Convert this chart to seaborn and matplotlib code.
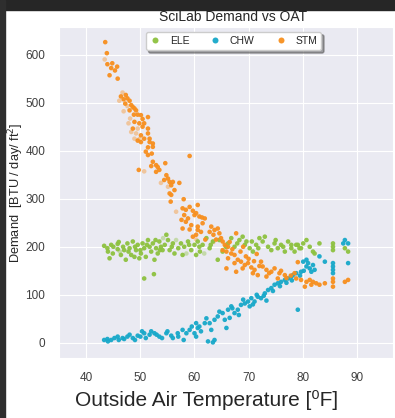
import pandas as pd
import numpy as np
import matplotlib
matplotlib.use('Agg')
import matplotlib.pyplot as plt
import seaborn as sns
from matplotlib.patches import Rectangle

# values (OAT in F, demand in BTU/day/ft2)
ele_oat = [43.3, 43.9, 44.6, 44.9, 44.3, 45.8, 45.8, 46.4, 47.0, 47.3, 47.6, 48.0, 48.3, 48.6, 48.9,
           49.2, 49.5, 49.8, 50.1, 50.4, 50.7, 51.0, 51.4, 51.7, 52.0, 52.3, 52.6, 52.9, 53.2, 53.5,
           53.8, 54.1, 54.8, 55.1, 55.4, 56.0, 56.3, 50.7, 52.5, 57.5, 57.8, 58.1, 58.8, 59.4, 60.0,
           60.3, 60.9, 60.6, 61.5, 62.2, 62.8, 63.4, 64.3, 64.6, 65.2, 66.2, 66.8, 67.4, 68.3, 68.9,
           69.3, 69.6, 70.2, 70.8, 71.4, 72.0, 72.6, 73.0, 73.6, 74.2, 74.8, 75.4, 76.0, 76.7, 77.3,
           77.9, 78.5, 79.1, 79.7, 77.9, 78.8, 79.4, 80.1, 80.7, 81.3, 81.9, 82.2, 83.1, 85.6, 85.6,
           85.6, 87.8, 88.4, 44.0, 45.0, 46.0, 46.8, 47.8, 49.0, 50.0, 51.2, 52.8, 53.6, 54.5, 55.8,
           57.0, 59.0, 61.0, 63.0, 65.8, 67.9, 70.6, 71.8, 75.0, 76.4]
ele_demand = [202, 197, 204, 186, 176, 206, 195, 183, 193, 173, 207, 197, 183, 211, 179,
              193, 204, 176, 186, 207, 197, 179, 214, 200, 190, 207, 173, 197, 186, 211,
              200, 193, 225, 214, 193, 207, 186, 134, 143, 207, 183, 200, 211, 193, 204,
              183, 200, 211, 204, 218, 197, 211, 173, 214, 190, 207, 218, 200, 214, 221,
              204, 211, 197, 190, 204, 218, 211, 221, 200, 193, 207, 197, 204, 190, 211,
              197, 190, 204, 197, 204, 204, 197, 207, 214, 200, 190, 186, 207, 207, 200,
              193, 197, 190, 190, 200, 210, 200, 190, 200, 193, 204, 214, 193, 204, 200,
              197, 204, 190, 204, 200, 207, 211, 197, 214, 200]

chw_oat = [43.3, 43.9, 44.6, 45.2, 45.8, 46.7, 47.6, 48.6, 49.5, 50.7, 51.7, 52.6, 53.5, 54.8, 55.7,
           56.9, 57.8, 59.1, 60.0, 60.9, 61.9, 44.0, 46.0, 47.0, 48.0, 49.0, 50.0, 50.3, 51.0, 52.0,
           53.0, 54.0, 55.0, 56.0, 57.0, 58.0, 58.5, 59.5, 60.3, 60.6, 61.2, 60.3, 62.5, 63.7, 63.4,
           62.2, 62.8, 63.1, 63.7, 64.3, 64.6, 65.2, 65.6, 65.9, 66.2, 66.8, 67.4, 68.0, 68.6, 69.3,
           69.9, 70.5, 70.2, 71.1, 71.7, 72.3, 73.0, 73.6, 74.2, 74.8, 75.4, 76.0, 76.7, 77.3, 77.9,
           78.8, 79.1, 87.8, 88.4, 87.5, 80.1, 80.7, 81.0, 80.7, 81.3, 81.9, 82.2, 81.6, 83.1, 84.1,
           85.6, 85.6, 85.6, 85.6, 88.4, 79.7, 78.2, 67.0, 69.0, 71.5, 72.8, 74.5, 75.8, 77.0, 78.0,
           79.5, 80.2, 73.3, 70.8, 68.2, 66.5]
chw_demand = [6, 8, 6, 10, 13, 10, 13, 10, 15, 20, 17, 20, 13, 20, 15,
              20, 27, 27, 20, 34, 41, 3, 6, 8, 17, 6, 13, 24, 10, 24,
              17, 10, 24, 10, 13, 6, 20, 34, 41, 31, 24, 13, 3, 6, 1,
              51, 41, 27, 48, 55, 65, 62, 48, 31, 69, 76, 62, 69, 79, 82,
              86, 93, 76, 86, 96, 93, 103, 110, 114, 121, 124, 127, 131, 134, 138,
              145, 69, 214, 207, 207, 169, 173, 166, 159, 155, 162, 152, 148, 180, 169,
              166, 159, 152, 145, 166, 148, 141, 72, 90, 100, 98, 108, 118, 125, 130,
              140, 150, 88, 80, 58, 52]

stm_oat = [43.5, 43.8, 43.9, 44.8, 44.6, 45.7, 45.3, 44.3, 45.8,
           46.4, 47.3, 47.6, 46.9, 48.0, 47.2, 48.3, 48.6, 48.9, 48.0, 49.2, 49.5, 48.8, 50.1, 50.4,
           51.4, 48.9, 49.8, 50.7, 48.6, 50.4, 51.4, 50.1, 51.4, 50.7, 51.7, 52.3,
           49.5, 50.1, 51.7, 52.3, 51.4, 51.0, 52.1, 51.4, 59.1,
           52.3, 52.9, 52.0, 53.2, 52.9, 53.5, 54.6, 49.7,
           54.8, 55.1, 54.4, 55.4, 56.0, 55.7, 56.3, 55.4, 55.7, 55.6, 57.2, 58.0,
           57.8, 58.4, 59.1, 59.7, 58.1, 57.6, 58.8, 60.0, 58.4, 59.4, 57.8, 59.1, 60.6, 61.4, 59.7, 61.2,
           60.6, 60.3, 60.9, 61.9, 61.5, 63.1, 63.7, 64.3, 64.6, 62.8, 60.6, 60.3, 67.7,
           64.9, 65.2, 65.6, 66.2, 65.2, 65.9, 66.8, 67.4, 66.2, 68.0, 68.6, 67.4, 69.3, 69.9, 68.9,
           70.5, 71.1, 72.3, 72.6, 73.3, 74.2, 74.8, 75.7, 76.7, 73.3, 71.7, 75.4, 65.9, 67.7,
           79.1, 78.5, 78.8, 79.7, 80.4, 80.7, 81.3, 81.9, 81.6, 82.5, 83.1, 84.1, 85.6, 85.6, 85.6,
           87.8, 88.4,
           63.5, 64.0, 66.5, 67.0, 68.5, 69.5, 70.0, 71.0, 72.0, 73.8, 76.0, 77.0, 77.8, 70.8, 69.0,
           62.0, 71.5]
stm_demand = [626, 603, 580, 582, 572, 575, 567, 557, 550,
              513, 516, 509, 507, 504, 498, 495, 491, 488, 484, 484, 475, 475, 474, 466,
              470, 460, 457, 457, 446, 450, 446, 432, 436, 425, 425, 415,
              421, 418, 418, 408, 407, 398, 394, 391, 389,
              377, 370, 368, 366, 356, 360, 374, 360,
              349, 342, 339, 335, 335, 328, 318, 311, 308, 294, 333, 299,
              280, 277, 283, 275, 266, 256, 259, 266, 252, 245, 238, 236, 235, 261, 221, 231,
              287, 270, 263, 259, 249, 242, 235, 238, 228, 231, 242, 225, 228,
              218, 211, 204, 200, 193, 190, 186, 183, 176, 173, 169, 166, 162, 166, 155,
              157, 152, 169, 159, 152, 148, 155, 145, 141, 138, 141, 134, 155, 148,
              168, 145, 134, 131, 117, 127, 131, 127, 121, 124, 121, 124, 134, 127, 117,
              127, 131,
              225, 215, 210, 195, 190, 180, 175, 170, 160, 145, 150, 135, 140, 145, 200,
              215, 185]

# paler (single, non overlapping) readings
stm_faded_oat = [43.4, 46.7, 46.1, 47.6, 46.9, 48.1, 47.8, 49.5, 48.3, 49.2, 49.8, 48.9, 50.7,
                 53.8, 55.1, 56.6, 60.3, 63.5]
stm_faded_demand = [590, 521, 504, 493, 482, 467, 457, 446, 439, 436, 424, 425, 357,
                    333, 325, 273, 215, 210]
ele_faded_oat = [46.2, 54.2, 58.5, 61.8, 56.6]
ele_faded_demand = [190, 218, 186, 186, 214]

series = ['ELE', 'CHW', 'STM']
colors = {'ELE': '#8dc13f', 'CHW': '#17a8c9', 'STM': '#f78f1e'}

df = pd.concat([
    pd.DataFrame({'OAT': ele_oat, 'Demand': ele_demand, 'Series': 'ELE'}),
    pd.DataFrame({'OAT': chw_oat, 'Demand': chw_demand, 'Series': 'CHW'}),
    pd.DataFrame({'OAT': stm_oat, 'Demand': stm_demand, 'Series': 'STM'}),
], ignore_index=True)
faded = pd.concat([
    pd.DataFrame({'OAT': ele_faded_oat, 'Demand': ele_faded_demand, 'Series': 'ELE'}),
    pd.DataFrame({'OAT': stm_faded_oat, 'Demand': stm_faded_demand, 'Series': 'STM'}),
], ignore_index=True)

sns.set_style('darkgrid')
plt.rcParams['font.family'] = ['Liberation Sans', 'DejaVu Sans']

fig = plt.figure(figsize=(3.95, 4.18), dpi=100)
ax = fig.add_axes([0.150, 0.143, 0.845, 0.793])

sns.scatterplot(x='OAT', y='Demand', data=faded, hue='Series', palette=colors,
                s=11, linewidth=0, alpha=0.4, legend=False, ax=ax)
sns.scatterplot(x='OAT', y='Demand', data=df, hue='Series', hue_order=series,
                palette=colors, s=11, linewidth=0, alpha=0.95, ax=ax)

ax.set_xlim(35, 96.7)
ax.set_ylim(-32, 658)
ax.set_xticks([40, 50, 60, 70, 80, 90])
ax.set_yticks([0, 100, 200, 300, 400, 500, 600])
ax.tick_params(labelsize=8.5, pad=6.5, colors='.25')

ax.set_title('SciLab Demand vs OAT', fontsize=10, x=0.52, pad=4, color='.15')
ax.set_ylabel('Demand  [BTU / day/ ft$^2$]', fontsize=9.2, color='.15')
ax.yaxis.set_label_coords(-0.1, 0.5)
ax.set_xlabel('Outside Air Temperature [\u2070F]', fontsize=15, color='.15')
ax.xaxis.set_label_coords(0.442, -0.095)

handles, labels = ax.get_legend_handles_labels()
leg = ax.legend(handles, labels, loc='upper center', bbox_to_anchor=(0.522, 1.0), ncol=3,
                fontsize=7.5, frameon=True, shadow=True, facecolor='white', framealpha=1,
                edgecolor='.8', handlelength=1.0, handletextpad=0.9, columnspacing=2.0,
                borderpad=0.4, markerscale=1.3)

# dark screenshot edges
fig.patches.append(Rectangle((0, 1 - 10 / 418), 1, 10 / 418, transform=fig.transFigure,
                             color='#262626', zorder=10))
fig.patches.append(Rectangle((0, 0), 5 / 395, 1, transform=fig.transFigure,
                             color='#2e2e2e', zorder=10))

plt.savefig('out.png', dpi=100)
